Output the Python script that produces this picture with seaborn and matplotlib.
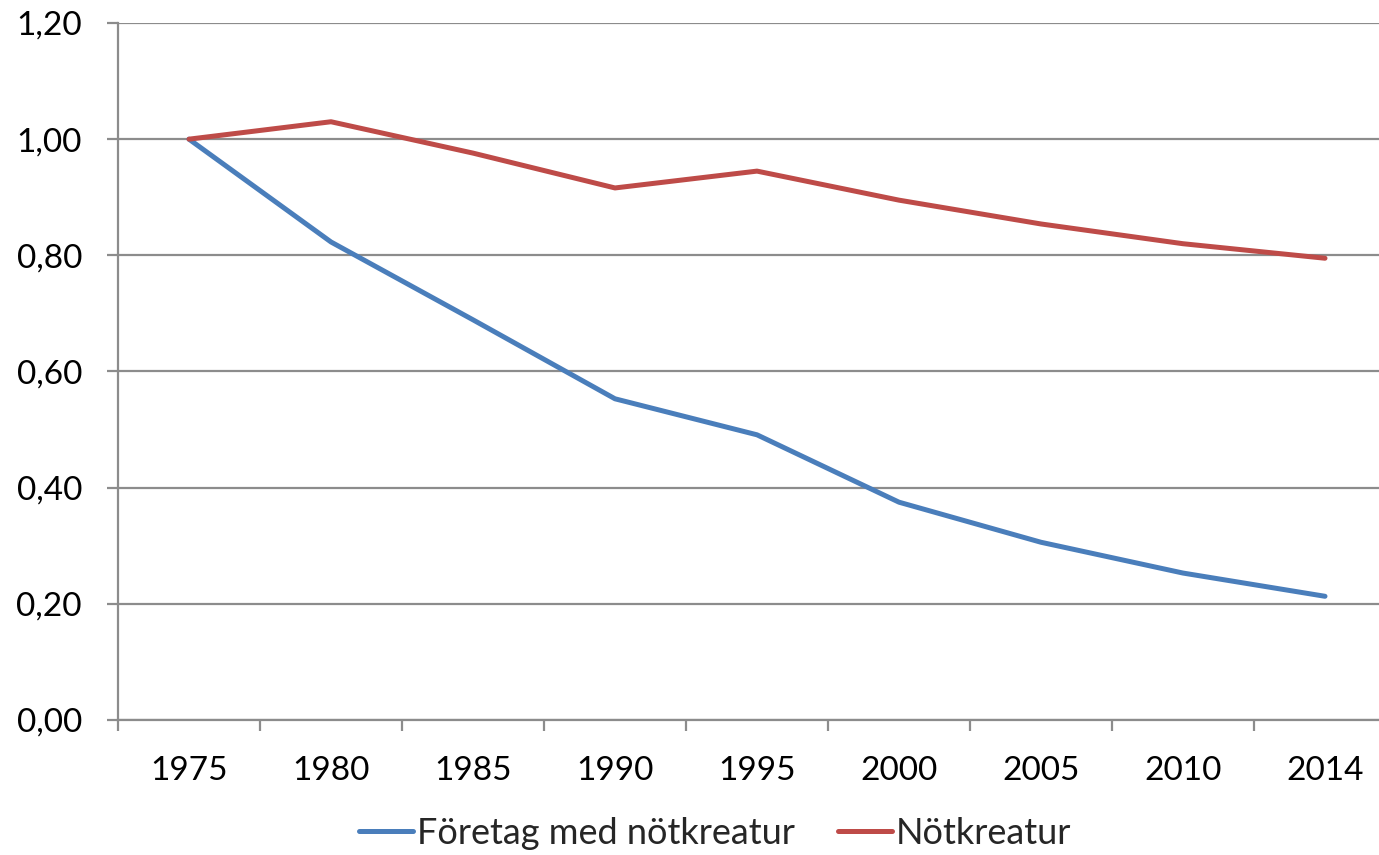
import pandas as pd
import matplotlib
matplotlib.use("Agg")
import matplotlib.pyplot as plt
import seaborn as sns
from matplotlib.ticker import FixedLocator, FuncFormatter

# Data (index, 1975 = 1.00)
years = ['1975', '1980', '1985', '1990', '1995', '2000', '2005', '2010', '2014']
foretag = [1.00, 0.823, 0.689, 0.553, 0.491, 0.375, 0.306, 0.253, 0.213]
notkreatur = [1.00, 1.030, 0.976, 0.916, 0.945, 0.895, 0.854, 0.820, 0.795]
series_names = ['Företag med nötkreatur', 'Nötkreatur']
colors = ['#4A7EBB', '#BE4B48']

df = pd.DataFrame({
    'year': years * 2,
    'value': foretag + notkreatur,
    'serie': [series_names[0]] * len(years) + [series_names[1]] * len(years),
})

sns.set_theme(style="white")
plt.rcParams['font.family'] = ['Lato', 'DejaVu Sans']

fig = plt.figure(figsize=(13.79, 8.55), dpi=100)
# plot area is cut off slightly on the right like the original
ax = fig.add_axes([118 / 1379, 1 - 720 / 855, 1278 / 1379, 697 / 855])

sns.lineplot(data=df, x='year', y='value', hue='serie', palette=colors,
             linewidth=3.6, ax=ax, legend=False, sort=False)
for line in ax.lines:
    line.set_solid_capstyle('round')

ax.set_xlim(-0.5, len(years) - 0.5)
ax.set_ylim(0, 1.2)
ax.set_xlabel('')
ax.set_ylabel('')

grid_c = '#8C8C8C'
ax.set_yticks([0, 0.2, 0.4, 0.6, 0.8, 1.0, 1.2])
ax.yaxis.set_major_formatter(FuncFormatter(lambda v, p: f"{v:.2f}".replace('.', ',')))
ax.yaxis.grid(True, color=grid_c, linewidth=1.6)
ax.set_axisbelow(True)

ax.set_xticks(range(len(years)))
ax.set_xticklabels(years)
ax.xaxis.set_minor_locator(FixedLocator([i - 0.5 for i in range(len(years) + 1)]))
ax.tick_params(axis='x', which='major', length=0, pad=26, labelsize=24, colors='black')
ax.tick_params(axis='x', which='minor', length=8, width=1.6, color=grid_c, direction='out', bottom=True)
ax.tick_params(axis='y', which='major', length=8, width=1.6, color=grid_c, direction='out',
               left=True, pad=18, labelsize=24, labelcolor='black')

for s in ['top', 'right']:
    ax.spines[s].set_visible(False)
for s in ['left', 'bottom']:
    ax.spines[s].set_color(grid_c)
    ax.spines[s].set_linewidth(1.6)

handles = [plt.Line2D([], [], color=c, linewidth=3.6, solid_capstyle='round') for c in colors]
fig.legend(handles, series_names, loc='center', bbox_to_anchor=(715 / 1379, 1 - 833 / 855),
           ncol=2, frameon=False, fontsize=26, handlelength=1.5, handletextpad=0.1,
           columnspacing=1.2)

fig.savefig('out.png', dpi=100, facecolor='white')
